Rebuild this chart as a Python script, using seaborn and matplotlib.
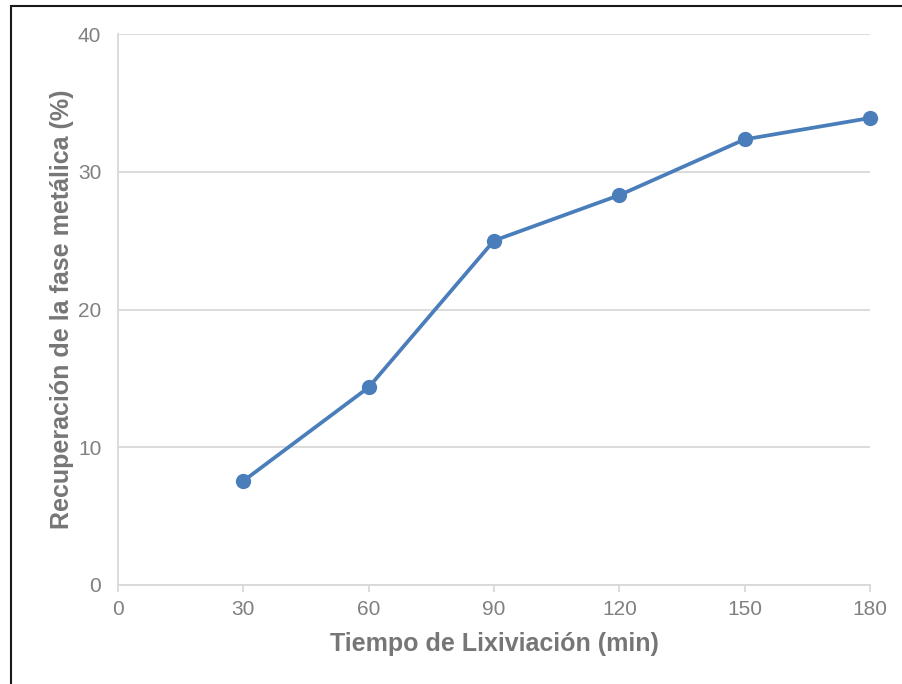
import matplotlib
matplotlib.use("Agg")
import matplotlib.pyplot as plt
from matplotlib import font_manager as fm
import seaborn as sns
import pandas as pd
from matplotlib.patches import Rectangle

# Leaching time (min) and metallic-phase recovery (%)
tiempo = [30, 60, 90, 120, 150, 180]
recuperacion = [7.55, 14.35, 25.0, 28.3, 32.35, 33.9]
x_ticks = [0, 30, 60, 90, 120, 150, 180]
y_ticks = [0, 10, 20, 30, 40]

df = pd.DataFrame({"tiempo": tiempo, "recuperacion": recuperacion})

sns.set_theme(style="white")


def find_font(stem):
    for path in fm.findSystemFonts():
        if path.split("/")[-1].lower() == stem.lower():
            return path
    return None


reg_path = find_font("LiberationSans-Regular.ttf")
bold_path = find_font("LiberationSans-Bold.ttf")
reg = fm.FontProperties(fname=reg_path) if reg_path else fm.FontProperties(family="DejaVu Sans")
bold = fm.FontProperties(fname=bold_path) if bold_path else fm.FontProperties(family="DejaVu Sans", weight="bold")

fig = plt.figure(figsize=(9.02, 6.84), dpi=100)
ax = fig.add_axes([118 / 902, 1 - 585 / 684, (870 - 118) / 902, (585 - 34) / 684])

line_color = "#4a7ebb"
sns.lineplot(data=df, x="tiempo", y="recuperacion", ax=ax, color=line_color,
             linewidth=2.7, marker="o", markersize=11, markeredgecolor=line_color,
             markeredgewidth=0, clip_on=False, zorder=3)

ax.set_xlim(0, 180)
ax.set_ylim(0, 40)
ax.set_xticks(x_ticks)
ax.set_yticks(y_ticks)

grid_color = "#d9d9d9"
ax.grid(axis="y", color=grid_color, linewidth=1.3)
ax.set_axisbelow(True)
for side in ("top", "right"):
    ax.spines[side].set_visible(False)
for side in ("left", "bottom"):
    ax.spines[side].set_color(grid_color)
    ax.spines[side].set_linewidth(1.3)

tick_color = "#808080"
label_color = "#767676"
ax.tick_params(axis="x", which="major", bottom=True, length=5, width=1.3,
               color=grid_color, labelcolor=tick_color, pad=6)
ax.tick_params(axis="y", left=False, labelcolor=tick_color, pad=6)
for lab in ax.get_xticklabels() + ax.get_yticklabels():
    lab.set_fontproperties(reg)
    lab.set_fontsize(15)

ax.set_xlabel("Tiempo de Lixiviación (min)", fontproperties=bold, fontsize=18,
              color=label_color, labelpad=9.5)
ax.set_ylabel("Recuperación de la fase metálica (%)", fontproperties=bold, fontsize=18,
              color=label_color, labelpad=3)

# Outer frame of the chart area
fig.patches.append(Rectangle((11 / 902, -0.1), 1.2, 1 - 6 / 684 + 0.1,
                             transform=fig.transFigure, fill=False,
                             edgecolor="#1a1a1a", linewidth=1.5, zorder=10))

fig.savefig("out.png", dpi=100, facecolor="white")
